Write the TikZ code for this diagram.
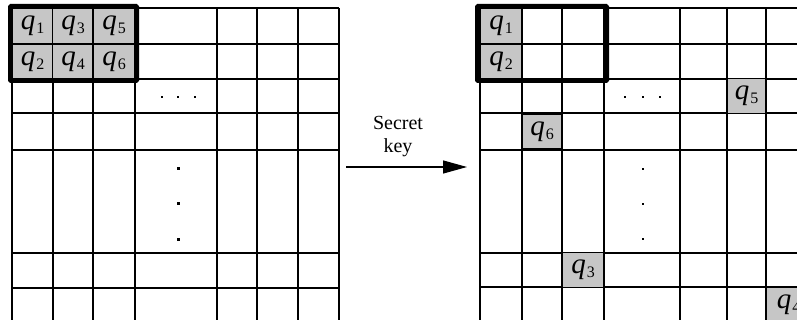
\documentclass[tikz,border=0pt]{standalone}
\usepackage{amsmath}
\usepackage{fontspec}
\setmainfont{Liberation Serif}
\usepackage{tikz}
\usetikzlibrary{arrows.meta}

\newcommand{\qlab}[1]{\textit{q}\kern1pt\raisebox{-0.3ex}{\fontsize{16}{16}\selectfont #1}}

\tikzset{
    cellq/.style={fill=gray!45,draw=black,line width=1.2pt,minimum width=#1,minimum height=35pt,inner sep=0pt,font=\fontsize{29}{30}\selectfont},
    cellq/.default=41pt,
    gridline/.style={line width=1.2pt},
    keybox/.style={line width=4pt,rounded corners=1pt},
    dotmark/.style={fill=black,inner sep=0pt,minimum size=#1},
    dotmark/.default=3pt
}

\begin{document}
\begin{tikzpicture}[x=1pt,y=-1pt]
\useasboundingbox (0,0) rectangle (797,320);
\clip (0,0) rectangle (797,320);

% original block
\foreach \x in {12,53,93,135,217,257,298,339}
    \draw[gridline] (\x,8) -- (\x,320);
\foreach \y in {8,44,79,113,150,253,288}
    \draw[gridline] (12,\y) -- (339,\y);

\begin{scope}[every node/.style={cellq}]
    \node (L1) at (32.5,26) {\qlab{1}};
    \node (L3) at (73,26) {\qlab{3}};
    \node[cellq=42pt] (L5) at (114,26) {\qlab{5}};
    \node (L2) at (32.5,61.5) {\qlab{2}};
    \node (L4) at (73,61.5) {\qlab{4}};
    \node[cellq=42pt] (L6) at (114,61.5) {\qlab{6}};
\end{scope}
\draw[keybox] (10,6) rectangle (137,81);

\foreach \x in {162,178,195}
    \node[dotmark=2.2pt] at (\x,97) {};
\foreach \y in {169,204,240}
    \node[dotmark] at (178,\y) {};

% secret key
\coordinate (keyA) at (346,167);
\coordinate (keyB) at (467,167);
\node[align=center,font=\fontsize{20}{23}\selectfont] (key) at (398,137) {Secret\\key};
\draw[line width=1.2pt,-{Triangle[length=24pt,width=13pt]}] (keyA) -- (keyB);

% scrambled block
\foreach \x in {480,522,562,604,680,727,766}
    \draw[gridline] (\x,8) -- (\x,320);
\foreach \y in {8,44,79,113,150,253,287}
    \draw[gridline] (480,\y) -- (797,\y);

\begin{scope}[every node/.style={cellq=42pt}]
    \node (R1) at (501,26) {\qlab{1}};
    \node (R2) at (501,61.5) {\qlab{2}};
    \node[cellq=39pt] (R5) at (746.5,96) {\qlab{5}};
    \node[cellq=40pt] (R6) at (542,131.5) {\qlab{6}};
    \node (R3) at (583,270) {\qlab{3}};
    \node[cellq=44pt,anchor=north west] (R4) at (766,287) {\qlab{4}};
\end{scope}
\draw[keybox] (477,6) rectangle (607,81);

\foreach \x in {625,643,660}
    \node[dotmark=2.2pt] at (\x,97) {};
\foreach \y in {169,204,239}
    \node[dotmark=2.6pt] at (643,\y) {};

\end{tikzpicture}
\end{document}
